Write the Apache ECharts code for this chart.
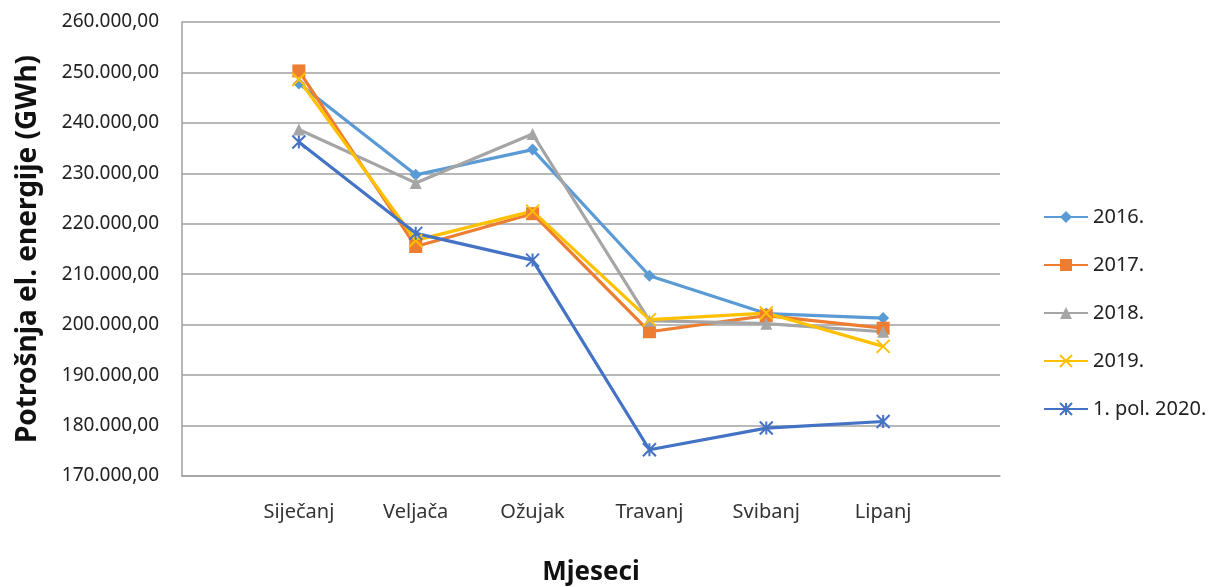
<!DOCTYPE html>
<html>
<head>
<meta charset="utf-8">
<script src="https://cdn.jsdelivr.net/npm/echarts@6/dist/echarts.min.js"></script>
<style>
  html, body { margin: 0; padding: 0; background: #fff; }
  #chart { width: 1208px; height: 587px; }
</style>
</head>
<body>
<div id="chart"></div>
<script>
// mjeseci (prazna mjesta na rubovima kao u Excelu)
var months = ['', 'Siječanj', 'Veljača', 'Ožujak', 'Travanj', 'Svibanj', 'Lipanj', ''];
var y2016 = [null, 247800, 229700, 234700, 209700, 202200, 201300, null];
var y2017 = [null, 250300, 215500, 222000, 198600, 201800, 199300, null];
var y2018 = [null, 238700, 228100, 237800, 200800, 200200, 198600, null];
var y2019 = [null, 248600, 216700, 222500, 201000, 202300, 195700, null];
var y2020 = [null, 236200, 218100, 212800, 175200, 179500, 180800, null];

var chart = echarts.init(document.getElementById('chart'));
var font = '"Noto Sans", sans-serif';

function fmt(v) {
  var s = String(Math.round(v));
  s = s.replace(/\B(?=(\d{3})+(?!\d))/g, '.');
  return s + ',00';
}

function makeSeries(name, data, color, symbol, size, stroked) {
  var s = {
    name: name,
    type: 'line',
    data: data,
    symbol: symbol,
    symbolSize: size,
    showAllSymbol: true,
    connectNulls: false,
    lineStyle: { color: color, width: 3.2 },
    itemStyle: { color: color },
    emphasis: { disabled: true }
  };
  if (stroked) {
    s.itemStyle = { color: 'rgba(0,0,0,0)', borderColor: color, borderWidth: 2 };
  }
  return s;
}

var option = {
  animation: false,
  backgroundColor: '#fff',
  textStyle: { fontFamily: font },
  grid: { left: 182, right: 208, top: 22, bottom: 111, outerBoundsMode: 'none' },
  legend: {
    orient: 'vertical',
    left: 1038,
    top: 201,
    itemWidth: 44,
    itemHeight: 15,
    itemGap: 26,
    textStyle: { fontSize: 20, color: '#222', lineHeight: 22, fontFamily: font },
    data: ['2016.', '2017.', '2018.', '2019.', '1. pol. 2020.']
  },
  xAxis: {
    type: 'category',
    boundaryGap: false,
    data: months,
    name: 'Mjeseci',
    nameLocation: 'middle',
    nameGap: 84,
    nameTextStyle: { fontSize: 26, fontWeight: 'bold', color: '#111', fontFamily: font },
    axisLine: { lineStyle: { color: '#a0a0a0', width: 1.5 } },
    axisTick: { show: false },
    axisLabel: { margin: 26, fontSize: 20, color: '#333', interval: 0 },
    splitLine: { show: false }
  },
  yAxis: {
    type: 'value',
    min: 170000,
    max: 260000,
    interval: 10000,
    name: 'Potrošnja el. energije (GWh)',
    nameLocation: 'middle',
    nameGap: 140,
    nameTextStyle: { fontSize: 28, fontWeight: 'bold', color: '#111', fontFamily: font },
    axisLine: { show: true, lineStyle: { color: '#a0a0a0', width: 1.5 } },
    axisTick: { show: false },
    axisLabel: { margin: 23, fontSize: 19, color: '#222', formatter: fmt },
    splitLine: { lineStyle: { color: '#a0a0a0', width: 1.5 } }
  },
  series: [
    makeSeries('2016.', y2016, '#5B9BD5', 'diamond', 12, false),
    makeSeries('2017.', y2017, '#ED7D31', 'rect', 13, false),
    makeSeries('2018.', y2018, '#A5A5A5', 'triangle', 12, false),
    makeSeries('2019.', y2019, '#FFC000', 'path://M0,0L10,10M10,0L0,10', 13, true),
    makeSeries('1. pol. 2020.', y2020, '#4472C4', 'path://M0,0L10,10M10,0L0,10M5,0L5,10', 13, true)
  ]
};

chart.setOption(option);
</script>
</body>
</html>
